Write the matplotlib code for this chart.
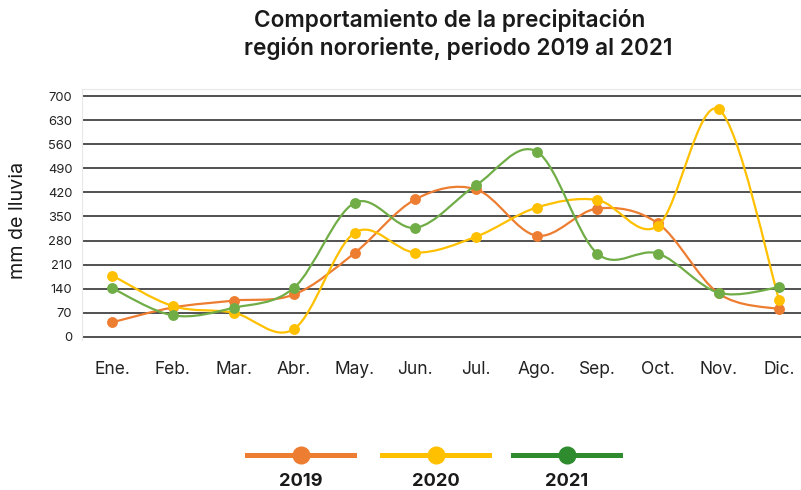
import matplotlib
matplotlib.use("Agg")
import matplotlib.pyplot as plt
from matplotlib.path import Path
from matplotlib.patches import PathPatch
from matplotlib.lines import Line2D
import numpy as np

plt.rcParams['font.family'] = ['Inter', 'DejaVu Sans']

months = ["Ene.", "Feb.", "Mar.", "Abr.", "May.", "Jun.", "Jul.",
          "Ago.", "Sep.", "Oct.", "Nov.", "Dic."]
years = ["2019", "2020", "2021"]
rain_2019 = [42, 85, 105, 123, 244, 400, 429, 294, 373, 330, 126, 80]
rain_2020 = [178, 89, 70, 23, 303, 245, 291, 376, 398, 323, 662, 107]
rain_2021 = [141, 62, 84, 143, 390, 317, 441, 539, 242, 242, 128, 144]
yticks = list(range(0, 701, 70))

line_colors = ["#ED7D31", "#FFC000", "#70AD47"]
legend_colors = ["#ED7D31", "#FFC000", "#2E8B2E"]

W, H = 801, 490
fig = plt.figure(figsize=(W / 100, H / 100), dpi=100)
ax = fig.add_axes([82 / W, 150 / H, 719 / W, 251 / H])
ax.set_xlim(-0.5, 11.36)
ax.set_ylim(-9.6, 721)


def smooth_path(xs, ys):
    """Cubic Bezier path through the points (Catmull-Rom style tangents)."""
    pts = np.column_stack([xs, ys]).astype(float)
    n = len(pts)
    verts = [pts[0]]
    codes = [Path.MOVETO]
    for i in range(n - 1):
        p0 = pts[i - 1] if i > 0 else pts[i]
        p1 = pts[i]
        p2 = pts[i + 1]
        p3 = pts[i + 2] if i + 2 < n else pts[i + 1]
        c1 = p1 + (p2 - p0) / 6.0
        c2 = p2 - (p3 - p1) / 6.0
        verts += [c1, c2, p2]
        codes += [Path.CURVE4] * 3
    return Path(verts, codes)


x = np.arange(len(months))
for k, (vals, col) in enumerate(zip([rain_2019, rain_2020, rain_2021], line_colors)):
    patch = PathPatch(smooth_path(x, vals), facecolor="none", edgecolor=col,
                      lw=1.6, zorder=3 + k, capstyle="round")
    ax.add_patch(patch)
    ax.plot(x, vals, linestyle="none", marker="o", ms=6.8, color=col,
            zorder=3 + k, clip_on=False)

# grid and axes styling
ax.set_yticks(yticks)
ax.set_yticklabels([str(v) for v in yticks])
ax.yaxis.grid(True, color="#333333", lw=1.2)
ax.set_axisbelow(True)
ax.tick_params(axis="y", length=0, pad=7, labelsize=9.3, labelcolor="#222222")
ax.set_xticks(x)
ax.set_xticklabels(months)
ax.tick_params(axis="x", length=0, pad=15, labelsize=12.5, labelcolor="#222222")
for side in ["right", "bottom"]:
    ax.spines[side].set_visible(False)
for side in ["top", "left"]:
    ax.spines[side].set_color("#e8e8e8")
    ax.spines[side].set_linewidth(0.8)

# y axis title
fig.text(18 / W, 1 - 220 / H, "mm de lluvia", rotation=90, ha="center",
         va="center", fontsize=14.2, color="#1a1a1a")

# chart title
fig.text(450 / W, 1 - 27 / H, "Comportamiento de la precipitación",
         ha="center", va="baseline", fontsize=16.3, fontweight="semibold",
         color="#1a1a1a")
fig.text(458 / W, 1 - 55.5 / H, "región nororiente, periodo 2019 al 2021",
         ha="center", va="baseline", fontsize=16.3, fontweight="semibold",
         color="#1a1a1a")

# legend drawn below the plot
legend_spans = [(247, 354), (382, 489), (513, 620)]
for (x0, x1), col, label in zip(legend_spans, legend_colors, years):
    yl = 1 - 455 / H
    fig.add_artist(Line2D([x0 / W, x1 / W], [yl, yl], color=col, lw=3.6,
                          transform=fig.transFigure))
    xc = (x0 + x1) / 2 / W
    fig.add_artist(Line2D([xc], [yl], marker="o", ms=12, color=col,
                          linestyle="none", transform=fig.transFigure))
    fig.text(xc, 1 - 485.5 / H, label, ha="center", va="baseline",
             fontsize=13.2, fontweight="bold", color="#1a1a1a")

fig.savefig("out.png", dpi=100, facecolor="white")
